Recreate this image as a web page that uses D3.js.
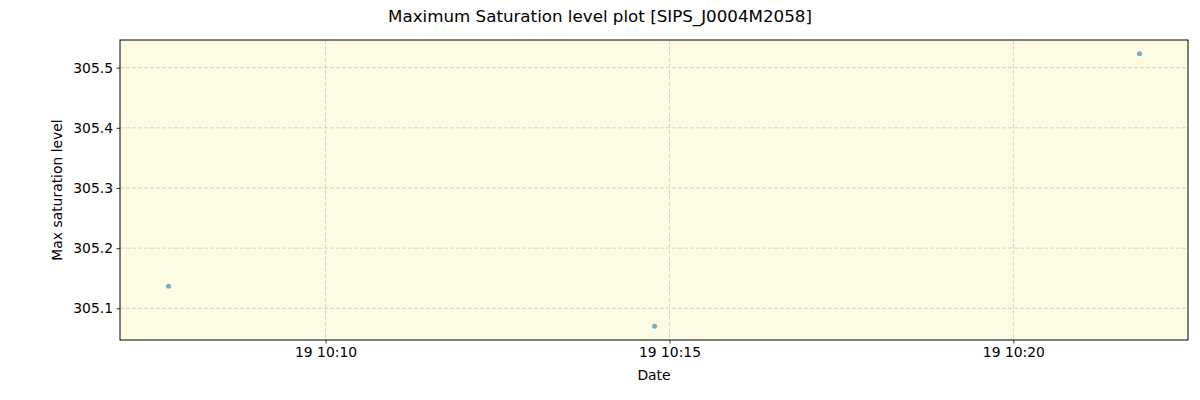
<!DOCTYPE html>
<html>
<head>
<meta charset="utf-8">
<title>Maximum Saturation level plot</title>
<script src="https://d3js.org/d3.v7.min.js"></script>
<style>
  body { margin: 0; background: #fff; }
  svg text { font-family: "DejaVu Sans", sans-serif; fill: #000; }
</style>
</head>
<body>
<script>
// data
var times = ["2023-01-19T10:07:43Z", "2023-01-19T10:14:47Z", "2023-01-19T10:21:50Z"];
var levels = [305.1367, 305.0700, 305.5233];
var yTicks = [305.1, 305.2, 305.3, 305.4, 305.5];
var xTicks = ["2023-01-19T10:10:00Z", "2023-01-19T10:15:00Z", "2023-01-19T10:20:00Z"];

var W = 1200, H = 400;
var margin = {top: 40, right: 12, bottom: 60, left: 120};
var width = W - margin.left - margin.right,
    height = H - margin.top - margin.bottom;

var data = times.map(function(t, i) { return {date: new Date(t), v: levels[i]}; });

var svg = d3.select("body").append("svg")
    .attr("width", W)
    .attr("height", H);

var g = svg.append("g")
    .attr("transform", "translate(" + margin.left + "," + margin.top + ")");

// matplotlib style 5% margins
var xExt = d3.extent(data, function(d) { return +d.date; });
var xPad = (xExt[1] - xExt[0]) * 0.05;
var x = d3.scaleUtc()
    .domain([new Date(xExt[0] - xPad), new Date(xExt[1] + xPad)])
    .range([0, width]);

var yExt = d3.extent(levels);
var yPad = (yExt[1] - yExt[0]) * 0.05;
var y = d3.scaleLinear()
    .domain([yExt[0] - yPad, yExt[1] + yPad])
    .range([height, 0]);

g.append("rect")
    .attr("width", width)
    .attr("height", height)
    .attr("fill", "#fdfce3");

// grid
g.selectAll(".gx").data(xTicks).enter().append("line")
    .attr("x1", function(d) { return x(new Date(d)); })
    .attr("x2", function(d) { return x(new Date(d)); })
    .attr("y1", 0).attr("y2", height)
    .attr("stroke", "#c8c8d0").attr("stroke-width", 0.8)
    .attr("stroke-dasharray", "4,2");

g.selectAll(".gy").data(yTicks).enter().append("line")
    .attr("y1", function(d) { return y(d); })
    .attr("y2", function(d) { return y(d); })
    .attr("x1", 0).attr("x2", width)
    .attr("stroke", "#c8c8d0").attr("stroke-width", 0.8)
    .attr("stroke-dasharray", "4,2");

// axes
var xAxis = g.append("g")
    .attr("transform", "translate(0," + height + ")")
    .call(d3.axisBottom(x)
        .tickValues(xTicks.map(function(d) { return new Date(d); }))
        .tickFormat(d3.utcFormat("%d %H:%M"))
        .tickSize(3.5).tickPadding(3.5));

var yAxis = g.append("g")
    .call(d3.axisLeft(y)
        .tickValues(yTicks)
        .tickFormat(d3.format(".1f"))
        .tickSize(3.5).tickPadding(3.5));

[xAxis, yAxis].forEach(function(a) {
    a.select(".domain").remove();
    a.selectAll("text").style("font-size", "13.9px").attr("fill", "#000");
    a.selectAll("line").attr("stroke", "#000").attr("stroke-width", 0.8);
});

// points
g.selectAll("circle").data(data).enter().append("circle")
    .attr("cx", function(d) { return x(d.date); })
    .attr("cy", function(d) { return y(d.v); })
    .attr("r", 2.5)
    .attr("fill", "#1f77b4")
    .attr("fill-opacity", 0.6);

// frame
g.append("rect")
    .attr("width", width)
    .attr("height", height)
    .attr("fill", "none")
    .attr("stroke", "#000")
    .attr("stroke-width", 1);

// labels
svg.append("text")
    .attr("x", W / 2).attr("y", 22)
    .attr("text-anchor", "middle")
    .style("font-size", "16.7px")
    .text("Maximum Saturation level plot [SIPS_J0004M2058]");

svg.append("text")
    .attr("x", margin.left + width / 2).attr("y", 380)
    .attr("text-anchor", "middle")
    .style("font-size", "13.9px")
    .text("Date");

svg.append("text")
    .attr("transform", "translate(62," + (margin.top + height / 2) + ") rotate(-90)")
    .attr("text-anchor", "middle")
    .style("font-size", "13.9px")
    .text("Max saturation level");
</script>
</body>
</html>
